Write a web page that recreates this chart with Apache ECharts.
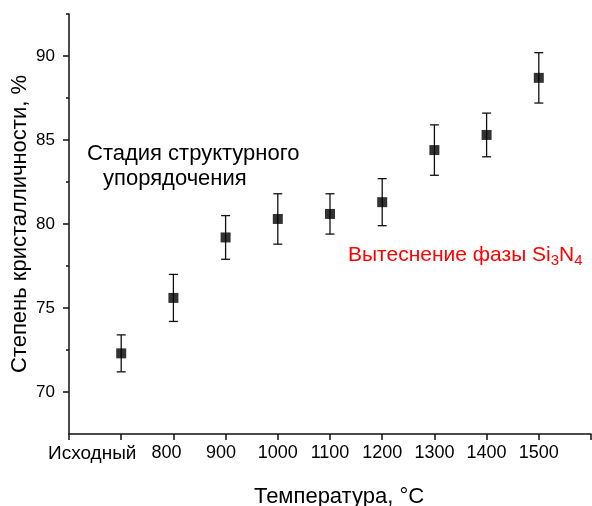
<!DOCTYPE html>
<html><head><meta charset="utf-8">
<script src="https://cdn.jsdelivr.net/npm/echarts@6/dist/echarts.min.js"></script>
<style>html,body{margin:0;padding:0;background:#fff}#c{width:592px;height:506px}</style>
</head><body><div id="c"></div>
<script>
// Data
const categories = ['Исходный','800','900','1000','1100','1200','1300','1400','1500'];
const xPositions = [700,800,900,1000,1100,1200,1300,1400,1500];
const crystallinity = [72.3,75.6,79.2,80.3,80.6,81.3,84.4,85.3,88.7];
const errUpper = [73.4,77.0,80.5,81.8,81.8,82.7,85.9,86.6,90.2];
const errLower = [71.2,74.2,77.9,78.8,79.4,79.9,82.9,84.0,87.2];
const xTicks = [600,700,800,900,1000,1100,1200,1300,1400,1500,1600];
const yMajorTicks = [70,75,80,85,90];
const yMinorTicks = [72.5,77.5,82.5,87.5,92.5];

const FONT = "'Liberation Sans', Arial, sans-serif";
const chart = echarts.init(document.getElementById('c'), null, {renderer:'canvas'});
const axisLineStyle = {color:'#111', width:1.5};

const option = {
  animation:false,
  backgroundColor:'#fff',
  textStyle:{fontFamily:FONT},
  grid:{left:69, right:1, top:14, bottom:72, containLabel:false, outerBoundsMode:'none'},
  xAxis:{
    type:'value', min:600, max:1600,
    axisLine:{show:true, lineStyle:axisLineStyle},
    axisTick:{show:true, inside:false, length:6, customValues:xTicks, lineStyle:axisLineStyle},
    axisLabel:{
      customValues:xPositions, margin:10, color:'#000', fontSize:18, fontFamily:FONT,
      formatter:function(v){
        const i = xPositions.indexOf(v);
        const t = i>=0 ? categories[i] : '';
        if(i===0) return '{a|'+t+'}';
        if(i===1) return '{b|'+t+'}';
        if(i===2) return '{c|'+t+'}';
        return t;
      },
      rich:{
        a:{fontSize:19, fontFamily:FONT, color:'#000', padding:[0,58,0,0]},
        b:{fontSize:18, fontFamily:FONT, color:'#000', padding:[0,14,0,0]},
        c:{fontSize:18, fontFamily:FONT, color:'#000', padding:[0,9,0,0]}
      }
    },
    splitLine:{show:false},
    name:'Температура, °C', nameLocation:'middle', nameGap:52, nameMoveOverlap:false,
    nameTextStyle:{fontSize:22, color:'#000', fontFamily:FONT, padding:[0,0,0,18]}
  },
  yAxis:[{
    type:'value', min:67.5, max:92.5,
    axisLine:{show:true, lineStyle:axisLineStyle},
    axisTick:{show:true, inside:false, length:6, customValues:yMajorTicks, lineStyle:axisLineStyle},
    axisLabel:{customValues:yMajorTicks, margin:14, color:'#000', fontSize:17, fontFamily:FONT},
    splitLine:{show:false},
    name:'Степень кристалличности, %', nameLocation:'middle', nameGap:38, nameMoveOverlap:false,
    nameTextStyle:{fontSize:22, color:'#000', fontFamily:FONT}
  },{
    type:'value', min:67.5, max:92.5, position:'left',
    axisLine:{show:false},
    axisTick:{show:true, inside:false, length:3, customValues:yMinorTicks, lineStyle:axisLineStyle},
    axisLabel:{show:false},
    splitLine:{show:false}
  }],
  series:[{
    type:'custom',
    yAxisIndex:0,
    data:xPositions.map((x,i)=>[x, errLower[i], errUpper[i]]),
    encode:{x:0, y:[1,2]},
    renderItem:function(params, api){
      const x = api.value(0);
      const lo = api.coord([x, api.value(1)]);
      const hi = api.coord([x, api.value(2)]);
      const hw = 4.5;
      const style = {stroke:'#111', lineWidth:1.3};
      return {type:'group', children:[
        {type:'line', shape:{x1:lo[0],y1:lo[1],x2:hi[0],y2:hi[1]}, style:style},
        {type:'line', shape:{x1:hi[0]-hw,y1:hi[1],x2:hi[0]+hw,y2:hi[1]}, style:style},
        {type:'line', shape:{x1:lo[0]-hw,y1:lo[1],x2:lo[0]+hw,y2:lo[1]}, style:style}
      ]};
    },
    z:2
  },{
    type:'scatter',
    yAxisIndex:0,
    data:xPositions.map((x,i)=>[x, crystallinity[i]]),
    symbol:'rect', symbolSize:10,
    itemStyle:{color:'#000'},
    z:3
  }],
  graphic:[
    {type:'text', left:87, top:143, style:{text:'Стадия структурного', fontSize:22, fontFamily:FONT, fill:'#000'}},
    {type:'text', left:103, top:168, style:{text:'упорядочения', fontSize:22, fontFamily:FONT, fill:'#000'}},
    {type:'text', left:348, top:245, style:{
      text:'Вытеснение фазы Si{sub|3}N{sub|4}', fontSize:21, fontFamily:FONT, fill:'#ff0000',
      rich:{sub:{fontSize:15, fontFamily:FONT, fill:'#ff0000', color:'#ff0000', padding:[10,0,0,0]}}
    }}
  ]
};
chart.setOption(option);
</script>
</body></html>
